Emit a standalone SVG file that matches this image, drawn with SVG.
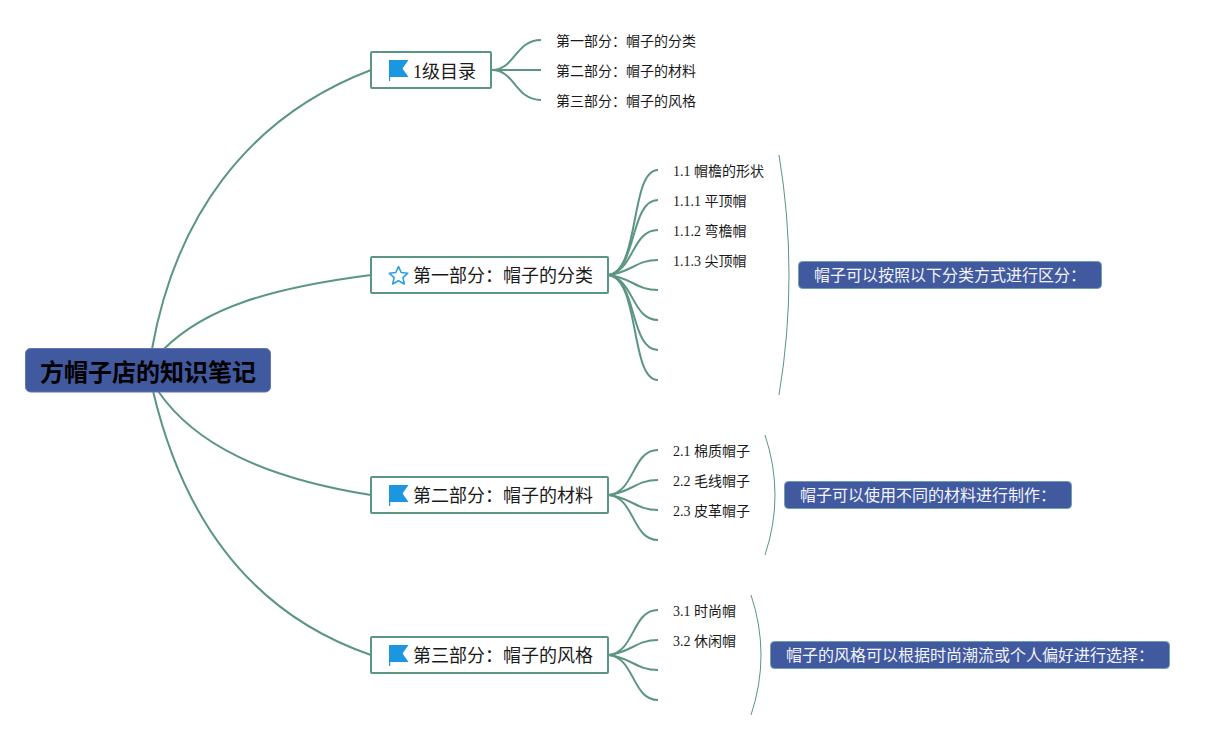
<svg xmlns="http://www.w3.org/2000/svg" width="1215" height="740" viewBox="0 0 1215 740">
<style>
text{font-family:"Liberation Serif","Noto Sans CJK SC",serif;fill:#1a1a1a}
.root{fill:#41599f;stroke:#5f76b0;stroke-width:1}
.rt{font-size:24px;font-weight:bold;fill:#000}
.topic{fill:#fff;stroke:#5b9583;stroke-width:2}
.tt{font-size:18px}
.leaf{font-size:14px}
.call{fill:#41599f;stroke:#6f9fa8;stroke-width:1}
.ct{font-size:16px;fill:#f2f4fa}
.flag{fill:#1b96e0}
.star{fill:none;stroke:#2a9fe0;stroke-width:1.6;stroke-linejoin:round}
.c{fill:none;stroke:#5b9583;stroke-width:2}
.b{fill:none;stroke:#5b9583;stroke-width:1}
</style>
<defs>
<path id="flagicon" class="flag" d="M0 0H19.500L13.500 8.500L19.500 17H1.200V21H0Z"/>
</defs>
<g id="connectors">
<path class="c" d="M152 349C175 220 245 118 371 70"/>
<path class="c" d="M164 349C205 308 270 288 371 275"/>
<path class="c" d="M158 391C195 445 265 478 371 495"/>
<path class="c" d="M153 391C180 505 240 610 371 655"/>
<path class="c" d="M492 70C515 70 515 40 541 40"/>
<path class="c" d="M492 70H541"/>
<path class="c" d="M492 70C515 70 515 100 541 100"/>
<path class="c" d="M609 275C640 270 630 170 658 170"/>
<path class="c" d="M609 275C637 270 630 200 658 200"/>
<path class="c" d="M609 275C634 270 632 230 658 230"/>
<path class="c" d="M609 275C632 272 636 260 658 260"/>
<path class="c" d="M609 275C632 278 636 290 658 290"/>
<path class="c" d="M609 275C634 280 632 320 658 320"/>
<path class="c" d="M609 275C637 280 630 350 658 350"/>
<path class="c" d="M609 275C640 280 630 380 658 380"/>
<path class="c" d="M609 495C635 492 632 450 658 450"/>
<path class="c" d="M609 495C632 492 636 480 658 480"/>
<path class="c" d="M609 495C632 498 636 510 658 510"/>
<path class="c" d="M609 495C635 498 632 540 658 540"/>
<path class="c" d="M609 655C635 652 632 610 658 610"/>
<path class="c" d="M609 655C632 652 636 640 658 640"/>
<path class="c" d="M609 655C632 658 636 670 658 670"/>
<path class="c" d="M609 655C635 658 632 700 658 700"/>
<path class="b" d="M779 155Q799 275 779 395"/>
<path class="b" d="M765 435Q785 495 765 555"/>
<path class="b" d="M751 595Q771 655 751 715"/>
</g>
<g id="root"><rect class="root" x="25.500" y="348.500" width="245" height="43.500" rx="5"/><text class="rt" x="40" y="381">方帽子店的知识笔记</text></g>
<g id="t0"><rect class="topic" x="371" y="52" width="120" height="36" rx="1"/><use href="#flagicon" x="389" y="60"/><text class="tt" x="413" y="78">1级目录</text></g>
<g id="t1"><rect class="topic" x="371" y="257" width="237" height="36" rx="1"/><path class="star" d="M398.500 266.500L401.200 272.500L407.800 273.200L402.900 277.600L404.300 284L398.500 280.800L392.700 284L394.100 277.600L389.200 273.200L395.800 272.500Z"/><text class="tt" x="413" y="282">第一部分：帽子的分类</text></g>
<g id="t2"><rect class="topic" x="371" y="477" width="237" height="36" rx="1"/><use href="#flagicon" x="389" y="485"/><text class="tt" x="413" y="502">第二部分：帽子的材料</text></g>
<g id="t3"><rect class="topic" x="371" y="637" width="237" height="36" rx="1"/><use href="#flagicon" x="389" y="645"/><text class="tt" x="413" y="662">第三部分：帽子的风格</text></g>
<g id="leaves0"><text class="leaf" x="556" y="46">第一部分：帽子的分类</text><text class="leaf" x="556" y="76">第二部分：帽子的材料</text><text class="leaf" x="556" y="106">第三部分：帽子的风格</text></g>
<g id="leaves1"><text class="leaf" x="673" y="176">1.1 帽檐的形状</text><text class="leaf" x="673" y="206">1.1.1 平顶帽</text><text class="leaf" x="673" y="236">1.1.2 弯檐帽</text><text class="leaf" x="673" y="266">1.1.3 尖顶帽</text></g>
<g id="leaves2"><text class="leaf" x="673" y="456">2.1 棉质帽子</text><text class="leaf" x="673" y="486">2.2 毛线帽子</text><text class="leaf" x="673" y="516">2.3 皮革帽子</text></g>
<g id="leaves3"><text class="leaf" x="673" y="616">3.1 时尚帽</text><text class="leaf" x="673" y="646">3.2 休闲帽</text></g>
<g id="c1"><rect class="call" x="798.500" y="261.500" width="303" height="27" rx="4"/><text class="ct" x="814" y="281">帽子可以按照以下分类方式进行区分：</text></g>
<g id="c2"><rect class="call" x="784.500" y="481.500" width="287" height="27" rx="4"/><text class="ct" x="800" y="501">帽子可以使用不同的材料进行制作：</text></g>
<g id="c3"><rect class="call" x="770.500" y="641.500" width="399" height="27" rx="4"/><text class="ct" x="786" y="661">帽子的风格可以根据时尚潮流或个人偏好进行选择：</text></g>
</svg>
